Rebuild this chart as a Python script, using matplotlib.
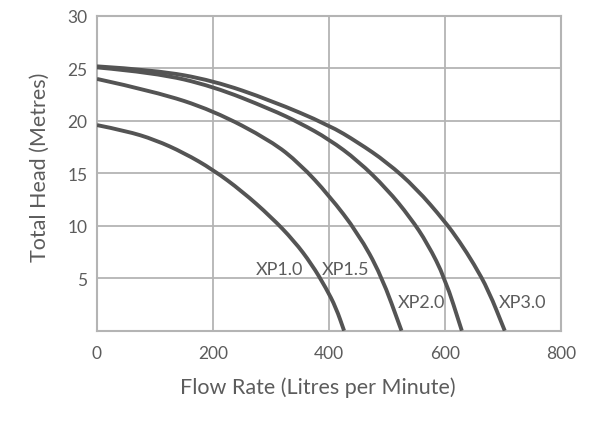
import matplotlib
matplotlib.use("Agg")
import matplotlib.pyplot as plt
from matplotlib.path import Path
from matplotlib.patches import PathPatch

# pump curves (flow L/min, head m)
xp10_flow = [0, 50, 100, 150, 200, 250, 300, 340, 370, 395, 412, 426]
xp10_head = [19.6, 19.05, 18.2, 16.95, 15.35, 13.3, 10.85, 8.55, 6.35, 4.05, 2.2, 0.0]

xp15_flow = [0, 100, 200, 300, 350, 400, 450, 490, 525]
xp15_head = [24.0, 22.8, 21.0, 18.1, 15.9, 12.9, 9.3, 5.3, 0.0]

xp20_flow = [0, 100, 200, 300, 350, 400, 450, 500, 540, 570, 600, 629]
xp20_head = [25.1, 24.6, 23.3, 21.1, 19.8, 18.25, 16.2, 13.5, 10.8, 8.3, 5.0, 0.0]

xp30_flow = [0, 100, 200, 300, 400, 450, 500, 550, 600, 625, 650, 675, 703]
xp30_head = [25.2, 24.85, 23.85, 21.95, 19.6, 17.95, 16.05, 13.6, 10.4, 8.5, 6.35, 3.85, 0.0]

curve_names = ["XP1.0", "XP1.5", "XP2.0", "XP3.0"]
x_ticks = [0, 200, 400, 600, 800]
y_ticks = [5, 10, 15, 20, 25, 30]

plt.rcParams['font.family'] = ['Lato', 'DejaVu Sans']

line_col = '#545454'
grid_col = '#b4b4b4'
text_col = '#5c5c5c'


def smooth_curve(ax, xs, ys, **kw):
    # quadratic bezier through the midpoints, read points act as controls
    verts = [(xs[0], ys[0])]
    codes = [Path.MOVETO]
    for i in range(1, len(xs) - 1):
        verts += [(xs[i], ys[i]), ((xs[i] + xs[i + 1]) / 2, (ys[i] + ys[i + 1]) / 2)]
        codes += [Path.CURVE3, Path.CURVE3]
    verts.append((xs[-1], ys[-1]))
    codes.append(Path.LINETO)
    ax.add_patch(PathPatch(Path(verts, codes), fill=False, **kw))


fig = plt.figure(figsize=(6.07, 4.27), dpi=100)
ax = fig.add_axes([0.1598, 0.2232, 0.7644, 0.737])

for fl, hd in [(xp10_flow, xp10_head), (xp15_flow, xp15_head),
               (xp20_flow, xp20_head), (xp30_flow, xp30_head)]:
    smooth_curve(ax, fl, hd, edgecolor=line_col, lw=2.8, capstyle='butt', zorder=3)

ax.set_xlim(0, 800)
ax.set_ylim(0, 30)
ax.set_xticks(x_ticks)
ax.set_yticks(y_ticks)
ax.grid(True, color=grid_col, lw=1.3)
ax.set_axisbelow(True)
for s in ax.spines.values():
    s.set_color(grid_col)
    s.set_linewidth(1.5)
ax.tick_params(axis='x', length=0, pad=10, labelsize=12.5, labelcolor=text_col)
ax.tick_params(axis='y', length=0, pad=7, labelsize=12.5, labelcolor=text_col)

# curve labels
lbl_pos = [(314, 5.4), (428, 5.4), (559, 2.3), (734, 2.3)]
for name, (lx, ly) in zip(curve_names, lbl_pos):
    ax.text(lx, ly, name, ha='center', va='baseline', fontsize=13,
            color=text_col, zorder=4)

fig.text(0.524, 0.091, "Flow Rate (Litres per Minute)", ha='center', va='center',
         fontsize=15.5, color=text_col)
fig.text(0.066, 0.607, "Total Head (Metres)", ha='center', va='center',
         rotation=90, fontsize=15.5, color=text_col)

fig.savefig("out.png", dpi=100, facecolor='white')
